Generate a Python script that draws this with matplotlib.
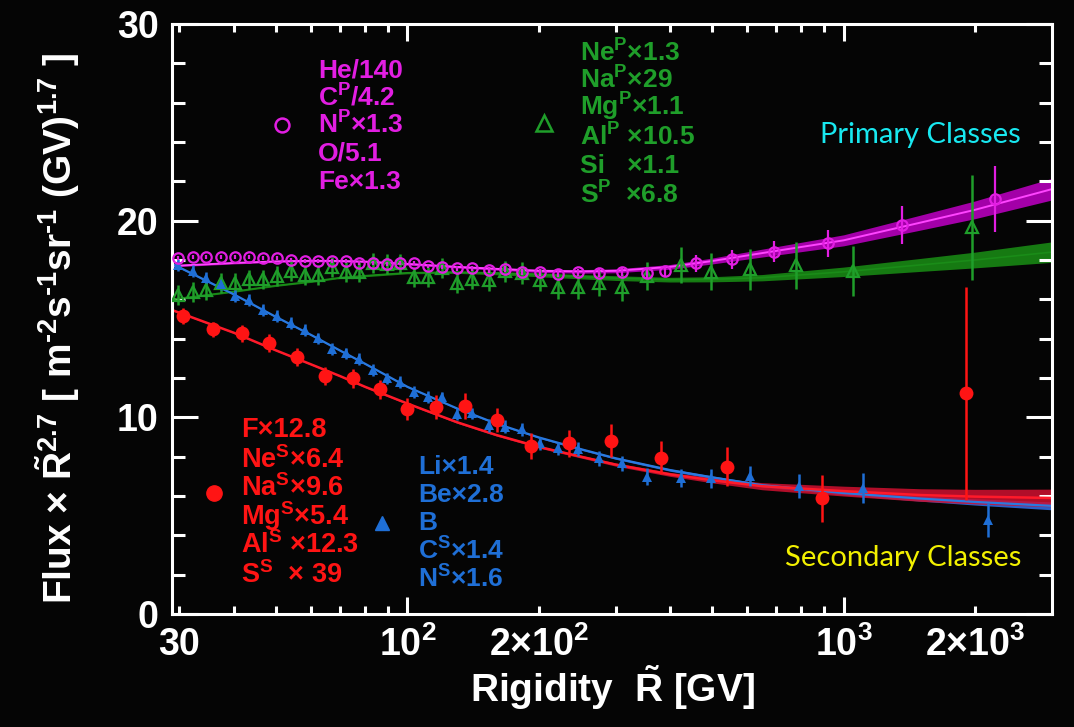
import matplotlib.pyplot as plt
import numpy as np

plt.rcParams['font.family'] = ['Liberation Sans', 'DejaVu Sans']
plt.rcParams['font.weight'] = 'bold'
plt.rcParams['mathtext.fontset'] = 'custom'
plt.rcParams['mathtext.rm'] = 'Liberation Sans:bold'
plt.rcParams['mathtext.bf'] = 'Liberation Sans:bold'
plt.rcParams['mathtext.it'] = 'Liberation Sans:bold'
plt.rcParams['mathtext.default'] = 'rm'

# --- data ---
# primary: He, C, N, O, Fe (magenta circles)
mag_R = [29.8, 32.2, 34.6, 37.3, 40.3, 43.4, 46.7, 50.2, 54.1, 58.2, 62.4, 67.2, 72.2,
         77.5, 83.3, 89.6, 96.1, 103.6, 111.6, 120.2, 129.7, 140.7, 153.4, 167.3, 183.4,
         201.1, 221.8, 245.9, 274.8, 310.2, 353.5, 390.3, 458.9, 554.6, 693.8, 920.9,
         1362, 2226]
mag_v = [18.12, 18.17, 18.17, 18.17, 18.17, 18.13, 18.12, 18.08, 18.0, 17.96, 17.95,
         17.95, 17.93, 17.86, 17.83, 17.78, 17.86, 17.83, 17.69, 17.66, 17.58, 17.58,
         17.5, 17.52, 17.4, 17.37, 17.3, 17.37, 17.32, 17.4, 17.32, 17.42, 17.83, 18.03,
         18.42, 18.85, 19.79, 21.1]
mag_e = [0.1] * 20 + [0.12, 0.12, 0.14, 0.15, 0.15, 0.16, 0.17, 0.18, 0.2, 0.22, 0.25,
                      0.3, 0.42, 0.48, 0.54, 0.68, 0.97, 1.68]

# primary: Ne, Na, Mg, Al, Si, S (green open triangles)
grn_R = [29.8, 32.2, 34.6, 37.3, 40.3, 43.4, 46.7, 50.2, 54.1, 58.2, 62.4, 67.2, 72.2,
         77.5, 83.3, 89.6, 96.1, 103.6, 111.6, 120.2, 129.7, 140.7, 153.4, 167.3, 183.4,
         201.1, 221.8, 245.9, 274.8, 310.2, 353.5, 423.2, 497.7, 609.0, 779.8, 1051, 1971]
grn_v = [16.22, 16.39, 16.47, 16.84, 16.84, 17.01, 17.01, 17.18, 17.45, 17.23, 17.23,
         17.63, 17.4, 17.4, 17.86, 17.79, 17.83, 17.12, 17.12, 17.6, 16.85, 17.04, 16.98,
         17.42, 17.35, 16.98, 16.62, 16.62, 16.81, 16.62, 17.2, 17.74, 17.4, 17.52, 17.74,
         17.45, 19.66]
grn_e = [0.5] * 17 + [0.5, 0.5, 0.5, 0.52, 0.52, 0.55, 0.55, 0.57, 0.58, 0.6, 0.62,
                      0.65, 0.68, 0.72, 0.93, 0.95, 1.03, 1.19, 1.27, 2.67]

# secondary: Li, Be, B, C, N (blue triangles)
blu_R = [29.8, 32.2, 34.6, 37.3, 40.3, 43.4, 46.7, 50.2, 54.1, 58.2, 62.4, 67.2, 72.2,
         77.5, 83.3, 89.6, 96.1, 103.6, 111.6, 120.2, 129.7, 140.7, 153.4, 167.3, 183.2,
         201.3, 221.6, 245.9, 274.8, 310.1, 353.9, 423.2, 497.7, 609.0, 788.9, 1110, 2147]
blu_v = [17.74, 17.45, 17.07, 16.76, 16.15, 15.96, 15.45, 15.15, 14.78, 14.44, 14.01,
         13.46, 13.25, 12.95, 12.4, 11.98, 11.78, 11.3, 11.05, 11.01, 10.17, 10.2, 9.6,
         9.52, 9.39, 8.68, 8.42, 8.37, 7.91, 7.66, 6.98, 6.9, 6.9, 7.02, 6.51, 6.39, 4.78]
blu_e = [0.3] * 20 + [0.3, 0.3, 0.32, 0.32, 0.33, 0.34, 0.35, 0.36, 0.38, 0.4, 0.42,
                      0.45, 0.48, 0.5, 0.6, 0.76, 0.85]

# secondary: F, Ne, Na, Mg, Al, S (red circles)
red_R = [30.6, 35.9, 41.7, 48.2, 55.9, 64.7, 74.9, 86.5, 99.9, 116, 135.5, 160.7, 192.4,
         234.2, 293.1, 382.2, 540.8, 893.3, 1904]
red_v = [15.15, 14.47, 14.27, 13.79, 13.08, 12.1, 11.98, 11.42, 10.41, 10.54, 10.57, 9.86,
         8.54, 8.68, 8.81, 7.95, 7.49, 5.88, 11.22]
red_e = [0.4, 0.4, 0.42, 0.45, 0.45, 0.48, 0.5, 0.5, 0.55, 0.6, 0.65, 0.6, 0.68, 0.7,
         0.83, 0.85, 1.0, 1.19, 5.4]

# fitted curves with uncertainty band (centre, half width)
fit_R = [28.9, 40, 50, 60, 70, 80, 100, 130, 160, 200, 250, 300, 400, 500, 650, 1000,
         1500, 2000, 3000]
mag_fit = [17.7, 17.85, 17.93, 17.96, 17.95, 17.92, 17.8, 17.65, 17.55, 17.45, 17.42,
           17.45, 17.65, 17.95, 18.35, 19.0, 19.9, 20.55, 21.6]
mag_hw = [0.05, 0.05, 0.05, 0.05, 0.05, 0.05, 0.06, 0.06, 0.07, 0.08, 0.09, 0.1, 0.12,
          0.15, 0.2, 0.28, 0.38, 0.45, 0.55]
grn_fit = [16.0, 16.4, 16.7, 16.9, 17.1, 17.2, 17.35, 17.38, 17.33, 17.25, 17.15, 17.08,
           17.0, 17.02, 17.1, 17.4, 17.75, 18.0, 18.4]
grn_hw = [0.04, 0.04, 0.04, 0.04, 0.04, 0.05, 0.05, 0.06, 0.08, 0.1, 0.11, 0.12, 0.12,
          0.13, 0.16, 0.24, 0.33, 0.4, 0.52]
blu_fit = [17.8, 16.25, 15.1, 14.2, 13.4, 12.72, 11.55, 10.45, 9.68, 8.98, 8.38, 7.92,
           7.32, 6.95, 6.55, 6.15, 5.87, 5.7, 5.5]
blu_hw = [0.03, 0.03, 0.03, 0.03, 0.03, 0.03, 0.03, 0.03, 0.04, 0.04, 0.05, 0.05, 0.06,
          0.07, 0.08, 0.1, 0.13, 0.16, 0.2]
red_fit = [15.45, 14.3, 13.4, 12.7, 12.1, 11.55, 10.7, 9.75, 9.1, 8.5, 8.0, 7.6, 7.1,
           6.8, 6.5, 6.25, 6.05, 5.97, 5.9]
red_hw = [0.03, 0.03, 0.03, 0.03, 0.03, 0.04, 0.04, 0.05, 0.05, 0.06, 0.07, 0.08, 0.1,
          0.13, 0.18, 0.25, 0.32, 0.37, 0.45]

mag_labels = ["He/140", r"$C^{P}$/4.2", r"$N^{P}$×1.3", "O/5.1", "Fe×1.3"]
grn_labels = [r"$Ne^{P}$×1.3", r"$Na^{P}$×29", r"$Mg^{P}$×1.1",
              r"$Al^{P}$ ×10.5", "Si   ×1.1", r"$S^{P}$  ×6.8"]
red_labels = ["F×12.8", r"$Ne^{S}$×6.4", r"$Na^{S}$×9.6",
              r"$Mg^{S}$×5.4", r"$Al^{S}$ ×12.3", r"$S^{S}$  × 39"]
blu_labels = ["Li×1.4", "Be×2.8", "B", r"$C^{S}$×1.4", r"$N^{S}$×1.6"]

MAG = '#e21ee2'
GRN = '#1f9e2a'
BLU = '#1f6fd6'
RED = '#ff1414'

fig = plt.figure(figsize=(10.74, 7.27), dpi=100, facecolor='#050505')
ax = fig.add_axes([0.1605, 0.1554, 0.8187, 0.8116])
ax.set_facecolor('#050505')

fR = np.array(fit_R)
# bands
ax.fill_between(fR, np.array(grn_fit) - grn_hw, np.array(grn_fit) + grn_hw,
                color='#167a12', lw=0, zorder=1)
ax.fill_between(fR, np.array(mag_fit) - mag_hw, np.array(mag_fit) + mag_hw,
                color='#a300a8', lw=0, zorder=1)
ax.fill_between(fR, np.array(blu_fit) - blu_hw, np.array(blu_fit) + blu_hw,
                color='#2a5fc8', lw=0, zorder=1)
ax.fill_between(fR, np.array(red_fit) - red_hw, np.array(red_fit) + red_hw,
                color='#d01030', alpha=0.85, lw=0, zorder=1.5)
# central lines
ax.plot(fR, grn_fit, color='#1a8c18', lw=1.2, zorder=2)
ax.plot(fR, mag_fit, color='#ff44ff', lw=1.4, zorder=2)
ax.plot(fR, blu_fit, color='#2a7ae0', lw=1.6, zorder=2)
ax.plot(fR, red_fit, color='#ff1a2a', lw=1.8, zorder=2.1)

# data points
ax.errorbar(grn_R, grn_v, yerr=grn_e, fmt='^', ms=9, mfc='none', mec=GRN, mew=1.6,
            ecolor=GRN, elinewidth=1.8, capsize=0, zorder=3)
ax.errorbar(blu_R, blu_v, yerr=blu_e, fmt='^', ms=7.5, mfc=BLU, mec=BLU, mew=0,
            ecolor=BLU, elinewidth=1.8, capsize=0, zorder=3)
ax.errorbar(red_R, red_v, yerr=red_e, fmt='o', ms=10, mfc=RED, mec=RED, mew=0,
            ecolor=RED, elinewidth=1.8, capsize=0, zorder=4)
ax.errorbar(mag_R, mag_v, yerr=mag_e, fmt='o', ms=7.5, mfc='none', mec=MAG, mew=1.6,
            ecolor=MAG, elinewidth=1.6, capsize=0, zorder=4)

ax.set_xscale('log')
ax.set_xlim(28.9, 3000)
ax.set_ylim(0, 30)

ax.set_xticks([100, 1000], [r'$10^{2}$', r'$10^{3}$'])
minor = [30, 40, 50, 60, 70, 80, 90, 200, 300, 400, 500, 600, 700, 800, 900, 2000]
minor_lab = ['30'] + [''] * 6 + [r'2×$10^{2}$'] + [''] * 7 + [r'2×$10^{3}$']
ax.set_xticks(minor, minor_lab, minor=True)
ax.set_yticks([0, 10, 20, 30])
ax.set_yticks(np.arange(0, 31, 2), minor=True)

ax.tick_params(axis='both', which='both', direction='in', top=True, right=True,
               color='white', labelcolor='white', width=2.2, labelsize=27)
ax.tick_params(axis='x', which='major', length=12, pad=9)
ax.tick_params(axis='x', which='minor', length=6, pad=9)
ax.tick_params(axis='y', which='major', length=19, pad=10)
ax.tick_params(axis='y', which='minor', length=9.5)
for sp in ax.spines.values():
    sp.set_color('white')
    sp.set_linewidth(2.2)

ax.text(0.5, -0.125, r"Rigidity  $\tilde{R}$ [GV]", transform=ax.transAxes,
        ha='center', va='center', color='white', fontsize=28)
ax.text(-0.131, 0.485,
        r"Flux × $\tilde{R}^{2.7}$ [ m$^{‐2}$s$^{‐1}$sr$^{‐1}$ (GV)$^{1.7}$ ]",
        transform=ax.transAxes, rotation=90, ha='center', va='center',
        color='white', fontsize=28)

# legend blocks
mag_y = [0.922, 0.876, 0.829, 0.781, 0.732]
for t, y in zip(mag_labels, mag_y):
    ax.text(0.1656, y, t, color=MAG, fontsize=19, ha='left', va='center',
            transform=ax.transAxes)
ax.plot([0.1245], [0.829], 'o', ms=10, mfc='none', mec=MAG, mew=1.8,
        transform=ax.transAxes)

grn_y = [0.951, 0.905, 0.859, 0.808, 0.759, 0.71]
for t, y in zip(grn_labels, grn_y):
    ax.text(0.464, y, t, color=GRN, fontsize=19, ha='left', va='center',
            transform=ax.transAxes)
ax.plot([0.4226], [0.832], '^', ms=12, mfc='none', mec=GRN, mew=1.8,
        transform=ax.transAxes)

red_y = [0.312, 0.261, 0.2136, 0.166, 0.117, 0.066]
for t, y in zip(red_labels, red_y):
    ax.text(0.078, y, t, color=RED, fontsize=19.5, ha='left', va='center',
            transform=ax.transAxes)
ax.plot([0.0473], [0.205], 'o', ms=11, color=RED, transform=ax.transAxes)

blu_y = [0.2497, 0.2017, 0.1547, 0.1066, 0.0592]
for t, y in zip(blu_labels, blu_y):
    ax.text(0.2793, y, t, color=BLU, fontsize=19, ha='left', va='center',
            transform=ax.transAxes)
ax.plot([0.238], [0.1547], '^', ms=10, color=BLU, transform=ax.transAxes)

ax.text(0.736, 0.812, "Primary Classes", color='#18e8f0', fontsize=21,
        family=['Lato', 'DejaVu Sans'], fontweight='normal', ha='left', va='center',
        transform=ax.transAxes)
ax.text(0.6966, 0.0949, "Secondary Classes", color='#f2f000', fontsize=21,
        family=['Lato', 'DejaVu Sans'], fontweight='normal', ha='left', va='center',
        transform=ax.transAxes)

plt.savefig("out.png", dpi=100, facecolor=fig.get_facecolor())
